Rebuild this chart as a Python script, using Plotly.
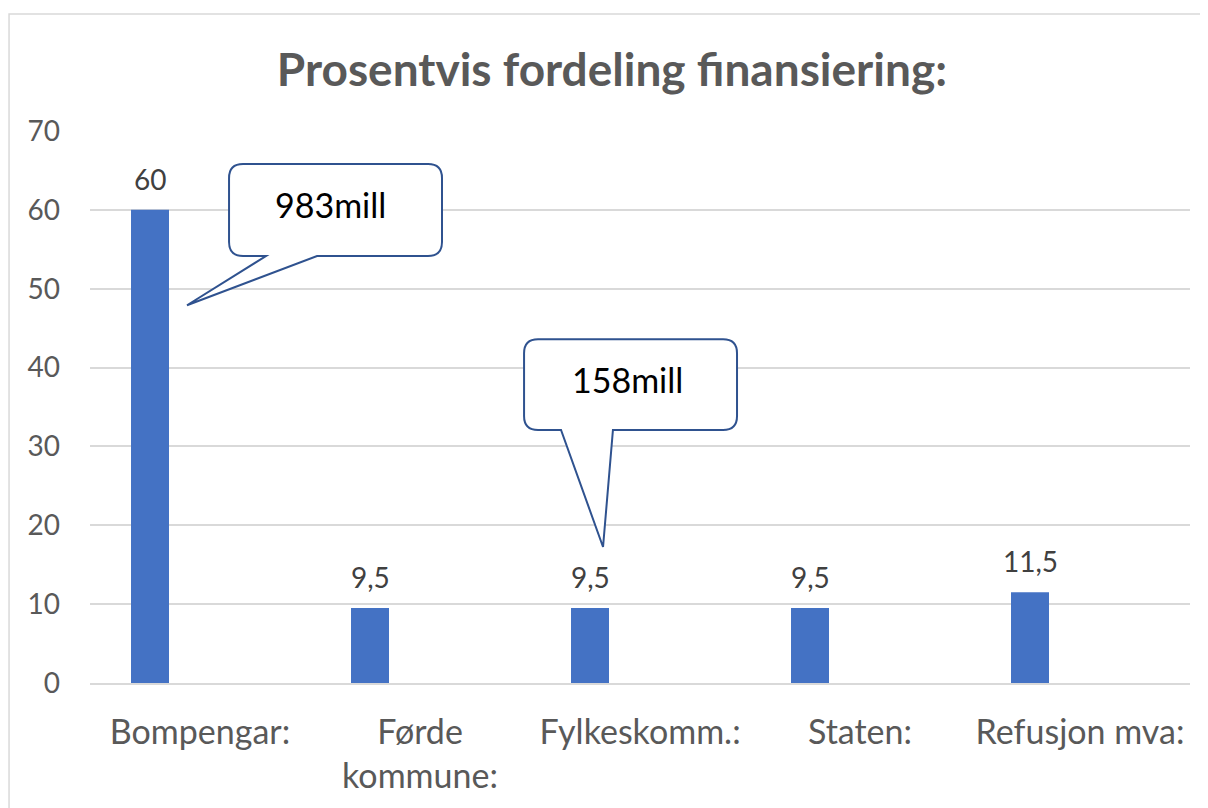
import plotly.graph_objects as go

categories = ["Bompengar:", "Førde<br>kommune:", "Fylkeskomm.:", "Staten:", "Refusjon mva:"]
values = [60, 9.5, 9.5, 9.5, 11.5]
y_ticks = [0, 10, 20, 30, 40, 50, 60, 70]
callout_texts = ["983mill", "158mill"]

FONT = "Lato"
BAR_COLOR = "#4472C4"
GRID = "#D9D9D9"
TXT = "#595959"

x_idx = list(range(len(categories)))
labels = [("%g" % v).replace(".", ",") for v in values]

fig = go.Figure()
fig.add_trace(go.Bar(
    x=x_idx, y=values,
    width=0.1727, offset=-0.3136,
    marker=dict(color=BAR_COLOR, line=dict(width=0)),
    hoverinfo="skip",
))

# data labels above bars
bar_centers = [i - 0.3136 + 0.1727 / 2 for i in x_idx]
for xc, v, t in zip(bar_centers, values, labels):
    fig.add_annotation(x=xc, y=v, text=t, showarrow=False, yanchor="bottom",
                       yshift=12, font=dict(family=FONT, size=28, color="#404040"))

# callouts (rounded box with pointer), in data units
def callout(x0, x1, ytop, ybot, b0, b1, tx, ty, rx=0.0636, ry=1.78):
    p = (f"M {x0+rx},{ytop} L {x1-rx},{ytop} Q {x1},{ytop} {x1},{ytop-ry} "
         f"L {x1},{ybot+ry} Q {x1},{ybot} {x1-rx},{ybot} "
         f"L {b1},{ybot} L {tx},{ty} L {b0},{ybot} "
         f"L {x0+rx},{ybot} Q {x0},{ybot} {x0},{ybot+ry} "
         f"L {x0},{ytop-ry} Q {x0},{ytop} {x0+rx},{ytop} Z")
    fig.add_shape(type="path", path=p, xref="x", yref="y",
                  line=dict(color="#2F528F", width=2), fillcolor="white", layer="above")

callout(0.132, 1.10, 65.8, 54.15, 0.30, 0.532, -0.059, 47.9)
callout(1.473, 2.441, 43.6, 32.08, 1.641, 1.877, 1.832, 17.25)
fig.add_annotation(x=0.591, y=60.7, text=callout_texts[0], showarrow=False,
                   font=dict(family=FONT, size=34, color="black"))
fig.add_annotation(x=1.941, y=38.55, text=callout_texts[1], showarrow=False,
                   font=dict(family=FONT, size=34, color="black"))

# chart-area border
fig.add_shape(type="rect", xref="paper", yref="paper", x0=-0.0736, x1=1.2,
              y0=-0.5, y1=1.212, line=dict(color=GRID, width=1.5), layer="below")

fig.update_layout(
    width=1200, height=800,
    margin=dict(l=82, r=18, t=123, b=125),
    paper_bgcolor="white", plot_bgcolor="white",
    showlegend=False,
    title=dict(text="<b>Prosentvis fordeling finansiering:</b>", x=0.5033, xref="container",
               y=1 - 62 / 800, yanchor="middle", xanchor="center",
               font=dict(family=FONT, size=46, color=TXT)),
    xaxis=dict(range=[-0.5, 4.5], tickmode="array", tickvals=x_idx, ticktext=categories,
               showgrid=False, zeroline=False, showline=True, linecolor=GRID, linewidth=1.5,
               ticks="", ticklabelstandoff=18,
               tickfont=dict(family=FONT, size=34, color=TXT)),
    yaxis=dict(range=[0, 70], tickmode="array", tickvals=y_ticks,
               showgrid=True, gridcolor=GRID, gridwidth=1.5, zeroline=False, showline=False,
               ticks="", ticklabelstandoff=29,
               tickfont=dict(family=FONT, size=28, color=TXT)),
)

fig.write_html("out.html")
